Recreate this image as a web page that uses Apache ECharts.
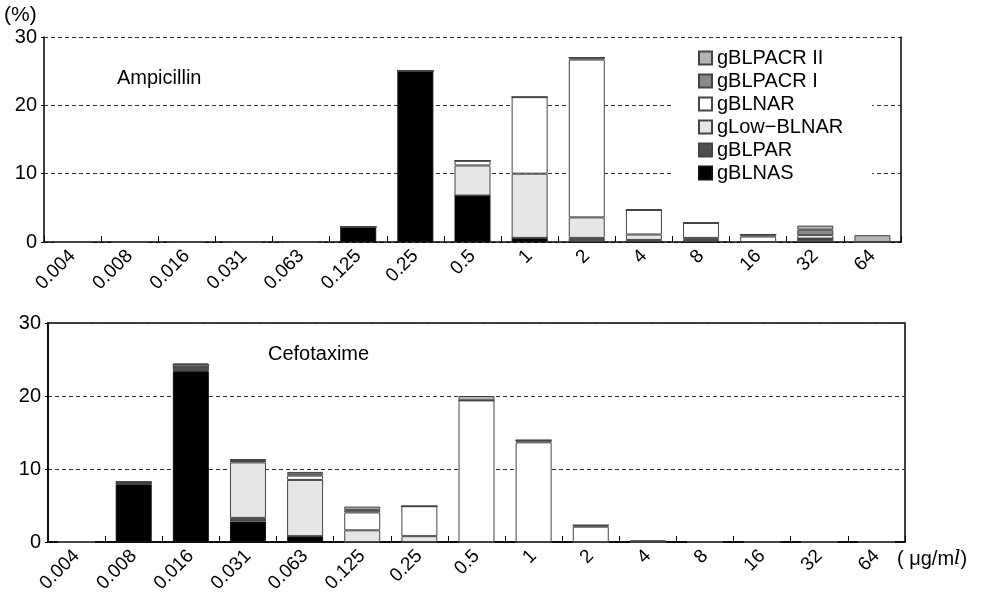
<!DOCTYPE html>
<html><head><meta charset="utf-8">
<script src="https://cdn.jsdelivr.net/npm/echarts@6/dist/echarts.min.js"></script>
<style>html,body{margin:0;padding:0;background:#fff}#c{width:985px;height:599px}</style>
</head><body><div id="c"></div>
<script>
const categories = ['0.004','0.008','0.016','0.031','0.063','0.125','0.25','0.5','1','2','4','8','16','32','64'];
const yTicks = [0,10,20,30];
const seriesNames = ['gBLNAS','gBLPAR','gLow\u2212BLNAR','gBLNAR','gBLPACR I','gBLPACR II'];
const legendOrder = ['gBLPACR II','gBLPACR I','gBLNAR','gLow\u2212BLNAR','gBLPAR','gBLNAS'];
const seriesColors = ['#000000','#505050','#e6e6e6','#ffffff','#8a8a8a','#b4b4b4'];

// Ampicillin (%)
const ampBLNAS   = [0,0,0,0,0,2.2,25.0,6.8,0.6,0,0,0,0,0,0];
const ampBLPAR   = [0,0,0,0,0,0,0,0,0,0.6,0.3,0.3,0,0.5,0];
const ampLow     = [0,0,0,0,0,0,0,4.4,9.4,3.0,0.8,0.3,0,0,0];
const ampBLNAR   = [0,0,0,0,0,0,0,0.7,11.2,23.1,3.6,2.2,0.8,0.5,0];
const ampPACR1   = [0,0,0,0,0,0,0,0,0,0.3,0,0,0.3,0.8,0];
const ampPACR2   = [0,0,0,0,0,0,0,0,0,0,0,0,0,0.6,1.0];

// Cefotaxime (%)
const cefBLNAS   = [0,7.9,23.4,2.8,0.8,0,0,0,0,0,0,0,0,0,0];
const cefBLPAR   = [0,0.1,0.6,0.5,0,0,0,0,0,0,0,0,0,0,0];
const cefLow     = [0,0,0,7.6,7.7,1.6,0.8,0,0,0,0,0,0,0,0];
const cefBLNAR   = [0,0.2,0.3,0.2,0.6,2.45,4.1,19.4,13.65,2.1,0,0,0,0,0];
const cefPACR1   = [0,0,0,0.2,0.3,0.35,0,0,0.3,0.2,0.1,0,0,0,0];
const cefPACR2   = [0,0.1,0.15,0,0.2,0.45,0,0.6,0,0,0.1,0,0,0,0];

const ampData = [ampBLNAS,ampBLPAR,ampLow,ampBLNAR,ampPACR1,ampPACR2];
const cefData = [cefBLNAS,cefBLPAR,cefLow,cefBLNAR,cefPACR1,cefPACR2];

const FONT = '"Liberation Sans", Arial, sans-serif';
const chart = echarts.init(document.getElementById('c'), null, {renderer:'canvas'});

function xAxisCfg(gi){
  return {
    type:'category', gridIndex:gi, data:categories, boundaryGap:true,
    axisLine:{show:true, lineStyle:{color:'#000', width:1.5}},
    axisTick:{show:true, inside:true, length:6, lineStyle:{color:'#000', width:1}},
    axisLabel:{rotate:45, fontSize:19, color:'#000', fontFamily:FONT, margin:11, interval:0},
    splitLine:{show:false}
  };
}
function yAxisCfg(gi){
  return {
    type:'value', gridIndex:gi, min:yTicks[0], max:yTicks[yTicks.length-1], interval:10,
    axisLine:{show:true, lineStyle:{color:'#000', width:1.5}},
    axisTick:{show:true, length:3, lineStyle:{color:'#000'}},
    axisLabel:{fontSize:20, color:'#000', fontFamily:FONT, margin:7,
      formatter:v=>yTicks.includes(v)?String(v):''},
    splitLine:{show:true, lineStyle:{color:'#333', type:[4,3], width:1}}
  };
}
function rightAxis(gi){
  return {
    type:'value', gridIndex:gi, position:'right', min:0, max:30, interval:10,
    axisLine:{show:true, lineStyle:{color:'#000', width:1.5}},
    axisTick:{show:false}, axisLabel:{show:false}, splitLine:{show:false}
  };
}

const series = [];
[ampData, cefData].forEach((set, gi)=>{
  set.forEach((arr, i)=>{
    series.push({
      name: seriesNames[i], type:'bar', stack:'s'+gi,
      xAxisIndex:gi, yAxisIndex:gi, data:arr,
      barCategoryGap:'37%',
      itemStyle:{color:seriesColors[i], borderColor: i===0?'#111':'#444', borderWidth:1},
      emphasis:{disabled:true}
    });
  });
});

chart.setOption({
  animation:false,
  backgroundColor:'#fff',
  textStyle:{fontFamily:FONT},
  grid:[
    {left:44, right:84, top:37, height:205},
    {left:48, right:80, top:323, height:219, show:true, borderColor:'#000', borderWidth:1.5, backgroundColor:'transparent'}
  ],
  xAxis:[xAxisCfg(0), xAxisCfg(1)],
  yAxis:[yAxisCfg(0), yAxisCfg(1), rightAxis(0)],
  legend:{
    data:legendOrder, orient:'vertical', left:673, top:42,
    itemWidth:13, itemHeight:13, itemGap:3, icon:'rect',
    backgroundColor:'#fff', padding:[6,29,6,25],
    textStyle:{fontSize:20, lineHeight:20, color:'#000', fontFamily:FONT}
  },
  graphic:[
    {type:'text', left:4, top:5, style:{text:'(%)', fontSize:21, fill:'#000', fontFamily:FONT}},
    {type:'text', left:117, top:68, style:{text:'Ampicillin', fontSize:20, fill:'#000', fontFamily:FONT}},
    {type:'text', left:268, top:344, style:{text:'Cefotaxime', fontSize:20, fill:'#000', fontFamily:FONT}},
    {type:'text', left:897, top:549, style:{
      text:'( {m|μ}g/m{i|l})', fontSize:20, fill:'#000', fontFamily:FONT,
      rich:{m:{fontSize:20, fontFamily:FONT, fill:'#000'}, i:{fontSize:20, fontStyle:'italic', fontFamily:'"DejaVu Serif", serif', fill:'#000'}}
    }}
  ],
  series:series
});
</script></body></html>
